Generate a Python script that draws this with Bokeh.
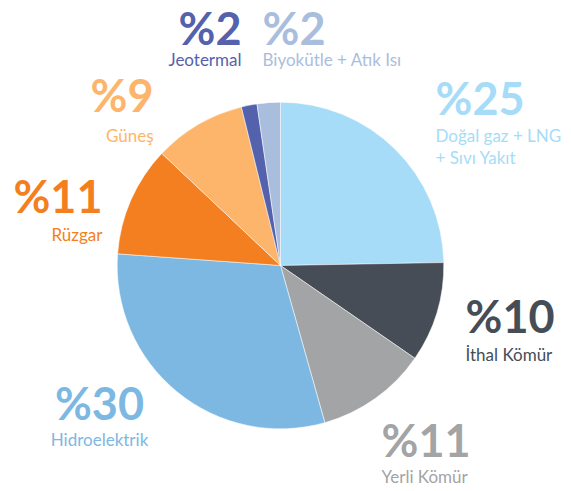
import math
from bokeh.plotting import figure
from bokeh.models import ColumnDataSource, Range1d
from bokeh.core.properties import value
from bokeh.embed import file_html
from bokeh.resources import INLINE

# ---- data (clockwise from 12 o'clock) ----
categories = ["Doğal gaz + LNG\n+ Sıvı Yakıt", "İthal Kömür", "Yerli Kömür", "Hidroelektrik",
              "Rüzgar", "Güneş", "Jeotermal", "Biyokütle + Atık Isı"]
shares = [24.7, 9.9, 11.0, 30.5, 10.9, 9.1, 1.55, 2.3]
pct_labels = ["%25", "%10", "%11", "%30", "%11", "%9", "%2", "%2"]
colors = ["#a6dcf7", "#464d57", "#a3a4a5", "#7db8e3", "#f47f20", "#fdb56c", "#5462ad", "#a9bedd"]

# ---- layout (image pixel coordinates, text centres) ----
W, H = 571, 491
cx, cy, r = 280, 265, 163.3
num_x = [435, 465, 381, 99, 102, 153, 241, 262]
num_y = [97, 315, 439, 402, 195, 94, 27, 27]
name_y = [146, 354, 476, 439, 234, 135, 59, 59]
align = ["left", "left", "left", "center", "right", "right", "right", "left"]

total = sum(shares)
starts, ends = [], []
acc = 0.0
for s in shares:
    t1 = acc / total * 2 * math.pi
    acc += s
    t2 = acc / total * 2 * math.pi
    starts.append(math.pi / 2 - t2)
    ends.append(math.pi / 2 - t1)

p = figure(width=W, height=H, output_backend="svg", toolbar_location=None,
           x_range=Range1d(0, W), y_range=Range1d(0, H), min_border=0)
p.axis.visible = False
p.grid.visible = False
p.outline_line_color = None
p.background_fill_color = "white"

wedges = ColumnDataSource(dict(start=starts, end=ends, color=colors))
p.wedge(x=cx, y=H - cy, radius=r, start_angle="start", end_angle="end",
        fill_color="color", line_color="white", line_width=0.5, source=wedges)

for i in range(len(shares)):
    p.text(x=[num_x[i]], y=[H - num_y[i]], text=[pct_labels[i]],
           text_font=value("Lato"), text_font_style="bold", text_font_size="45px",
           text_color=colors[i], text_align=align[i], text_baseline="alphabetic")
    p.text(x=[num_x[i]], y=[H - name_y[i]], text=[categories[i]],
           text_font=value("Lato"), text_font_size="17px", text_line_height=1.05,
           text_color=colors[i], text_align=align[i], text_baseline="alphabetic")

open("out.html", "w").write(file_html(p, INLINE))
